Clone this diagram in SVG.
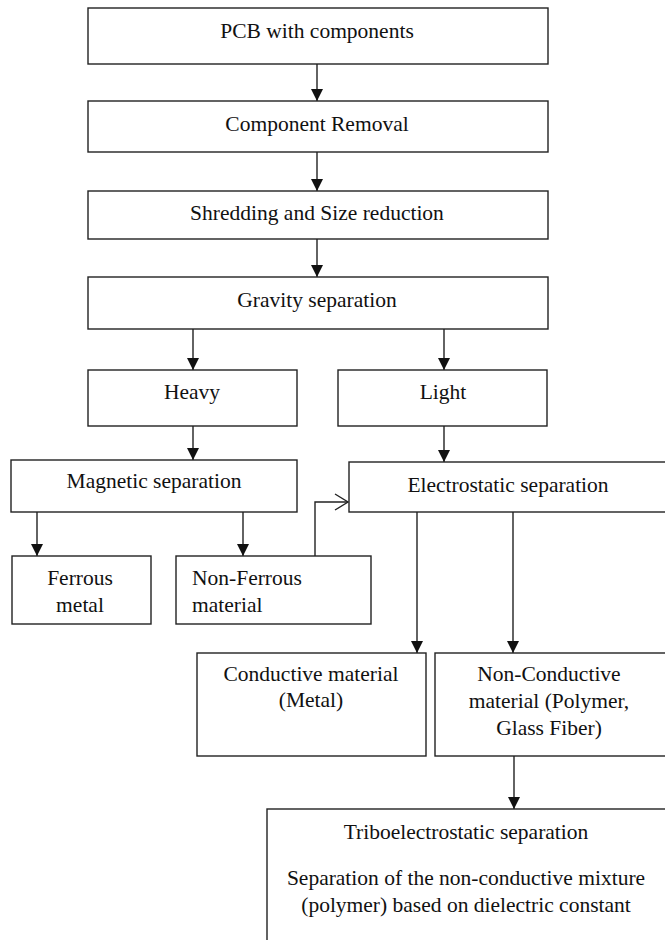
<svg xmlns="http://www.w3.org/2000/svg" width="665" height="940" viewBox="0 0 665 940">
<style>
.box{fill:#fff;stroke:#222;stroke-width:1.4}
.c{text-anchor:middle}
.ln{fill:none;stroke:#222;stroke-width:1.4}
</style>
<defs>
<marker id="oa" markerUnits="userSpaceOnUse" markerWidth="16" markerHeight="18" viewBox="0 0 16 18" refX="14" refY="9" orient="auto">
<path d="M1,1 L14,9 L1,17" fill="none" stroke="#222" stroke-width="1.4"/>
</marker>
</defs>
<rect width="665" height="940" fill="#fff"/>
<g id="connectors">
<path class="ln" d="M317,64 V101"/>
<path class="ln" d="M317,152 V191"/>
<path class="ln" d="M317,239 V277"/>
<path class="ln" d="M193,329 V370"/>
<path class="ln" d="M444,329 V370"/>
<path class="ln" d="M193,426 V460"/>
<path class="ln" d="M444,426 V462"/>
<path class="ln" d="M37,512 V556"/>
<path class="ln" d="M243,512 V556"/>
<path class="ln" d="M417,512 V653"/>
<path class="ln" d="M513,512 V653"/>
<path class="ln" d="M514,756 V809"/>
<path class="ln" d="M315,556 V502 H348" marker-end="url(#oa)"/>
<g fill="#111">
<path d="M311,89 L323,89 L317,101 Z"/>
<path d="M311,179 L323,179 L317,191 Z"/>
<path d="M311,265 L323,265 L317,277 Z"/>
<path d="M187,358 L199,358 L193,370 Z"/>
<path d="M438,358 L450,358 L444,370 Z"/>
<path d="M187,448 L199,448 L193,460 Z"/>
<path d="M438,450 L450,450 L444,462 Z"/>
<path d="M31,544 L43,544 L37,556 Z"/>
<path d="M237,544 L249,544 L243,556 Z"/>
<path d="M411,641 L423,641 L417,653 Z"/>
<path d="M507,641 L519,641 L513,653 Z"/>
<path d="M508,797 L520,797 L514,809 Z"/>
</g>
</g>
<g font-family="Liberation Serif, serif" font-size="21.5" fill="#111">
<g id="n-pcb"><rect class="box" x="88" y="8" width="460" height="56"/><text class="c" x="317" y="38">PCB with components</text></g>
<g id="n-removal"><rect class="box" x="88" y="101" width="460" height="51"/><text class="c" x="317" y="131">Component Removal</text></g>
<g id="n-shred"><rect class="box" x="88" y="191" width="460" height="48"/><text class="c" x="317" y="220">Shredding and Size reduction</text></g>
<g id="n-gravity"><rect class="box" x="88" y="277" width="460" height="52"/><text class="c" x="317" y="307">Gravity separation</text></g>
<g id="n-heavy"><rect class="box" x="88" y="370" width="209" height="56"/><text class="c" x="192" y="399">Heavy</text></g>
<g id="n-light"><rect class="box" x="338" y="370" width="209" height="56"/><text class="c" x="443" y="399">Light</text></g>
<g id="n-magnetic"><rect class="box" x="11" y="460" width="286" height="52"/><text class="c" x="154" y="488">Magnetic separation</text></g>
<g id="n-electro"><rect class="box" x="349" y="462" width="320" height="50"/><text class="c" x="508" y="492">Electrostatic separation</text></g>
<g id="n-ferrous"><rect class="box" x="12" y="556" width="139" height="68"/><text class="c" x="80" y="585">Ferrous</text><text class="c" x="80" y="612">metal</text></g>
<g id="n-nonferrous"><rect class="box" x="176" y="556" width="195" height="68"/><text x="192" y="585">Non-Ferrous</text><text x="192" y="612">material</text></g>
<g id="n-conductive"><rect class="box" x="197" y="653" width="229" height="103"/><text class="c" x="311" y="681">Conductive material</text><text class="c" x="311" y="707">(Metal)</text></g>
<g id="n-nonconductive"><rect class="box" x="435" y="653" width="234" height="103"/><text class="c" x="549" y="681">Non-Conductive</text><text class="c" x="549" y="708">material (Polymer,</text><text class="c" x="549" y="735">Glass Fiber)</text></g>
<g id="n-tribo"><rect class="box" x="267" y="809" width="402" height="140"/><text class="c" x="466" y="839">Triboelectrostatic separation</text><text class="c" x="466" y="885">Separation of the non-conductive mixture</text><text class="c" x="466" y="912">(polymer) based on dielectric constant</text></g>
</g>
</svg>
